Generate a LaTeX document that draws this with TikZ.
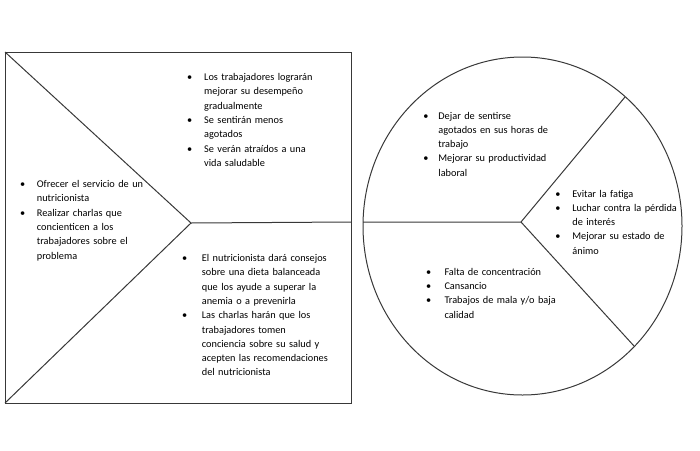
\documentclass[tikz,border=0pt]{standalone}
\usepackage{fontspec}
\setmainfont{Carlito}
\newlength\bgap
\newcommand\fitem[1]{\noindent\hangindent=\bgap\hangafter=1\makebox[\bgap][l]{\textbullet}#1}
\newcommand\bitem[1]{\par\fitem{#1}}
\tikzset{
  frame/.style={line width=1pt, draw=black!78},
  txt/.style={anchor=base west, inner sep=0pt, text width=220pt, align=left,
    font=\fontsize{10.3pt}{14.3pt}\selectfont, text=black},
}
\begin{document}
\begin{tikzpicture}[x=1pt,y=-1pt]
\useasboundingbox (0,0) rectangle (700,450);
% left rectangle
\coordinate (tl) at (5,52);
\coordinate (tr) at (351,52);
\coordinate (br) at (351,403);
\coordinate (bl) at (5,403);
\coordinate (v) at (191,223);
\coordinate (vr) at (351,222);
\draw[frame] (tl) -- (tr) -- (br) -- (bl) -- cycle;
\draw[frame] (tl) -- (v) -- (bl);
\draw[frame] (v) -- (vr);
% ellipse
\coordinate (c) at (522.5,226);
\coordinate (cv) at (521,222);
\coordinate (cl) at (363,222);
\coordinate (cur) at (625,97);
\coordinate (clr) at (634,346);
\draw[frame] (c) ellipse [x radius=159.5pt, y radius=169pt];
\draw[frame] (cl) -- (cv) -- (cur);
\draw[frame] (cv) -- (clr);
% texts
\node[txt] (ta) at (187,80.5) {\setlength\bgap{17pt}%
\fitem{Los trabajadores lograrán\newline mejorar su desempeño\newline gradualmente}
\bitem{Se sentirán menos\newline agotados}
\bitem{Se verán atraídos a una\newline vida saludable}\par};
\node[txt] (tb) at (20,187.5) {\setlength\bgap{16.7pt}%
\fitem{Ofrecer el servicio de un\newline nutricionista}
\bitem{Realizar charlas que\newline concienticen a los\newline trabajadores sobre el\newline problema}\par};
\node[txt] (tc) at (182,261.5) {\setlength\bgap{19.7pt}%
\fitem{El nutricionista dará consejos\newline sobre una dieta balanceada\newline que los ayude a superar la\newline anemia o a prevenirla}
\bitem{Las charlas harán que los\newline trabajadores tomen\newline conciencia sobre su salud y\newline acepten las recomendaciones\newline del nutricionista}\par};
\node[txt] (td) at (423.2,119) {\setlength\bgap{15pt}%
\fitem{Dejar de sentirse\newline agotados en sus horas de\newline trabajo}
\bitem{Mejorar su productividad\newline laboral}\par};
\node[txt] (te) at (555.2,197) {\setlength\bgap{17pt}%
\fitem{Evitar la fatiga}
\bitem{Luchar contra la pérdida\newline de interés}
\bitem{Mejorar su estado de\newline ánimo}\par};
\node[txt] (tf) at (425.8,275.3) {\setlength\bgap{18.5pt}%
\fitem{Falta de concentración}
\bitem{Cansancio}
\bitem{Trabajos de mala y/o baja\newline calidad}\par};
\end{tikzpicture}
\end{document}
